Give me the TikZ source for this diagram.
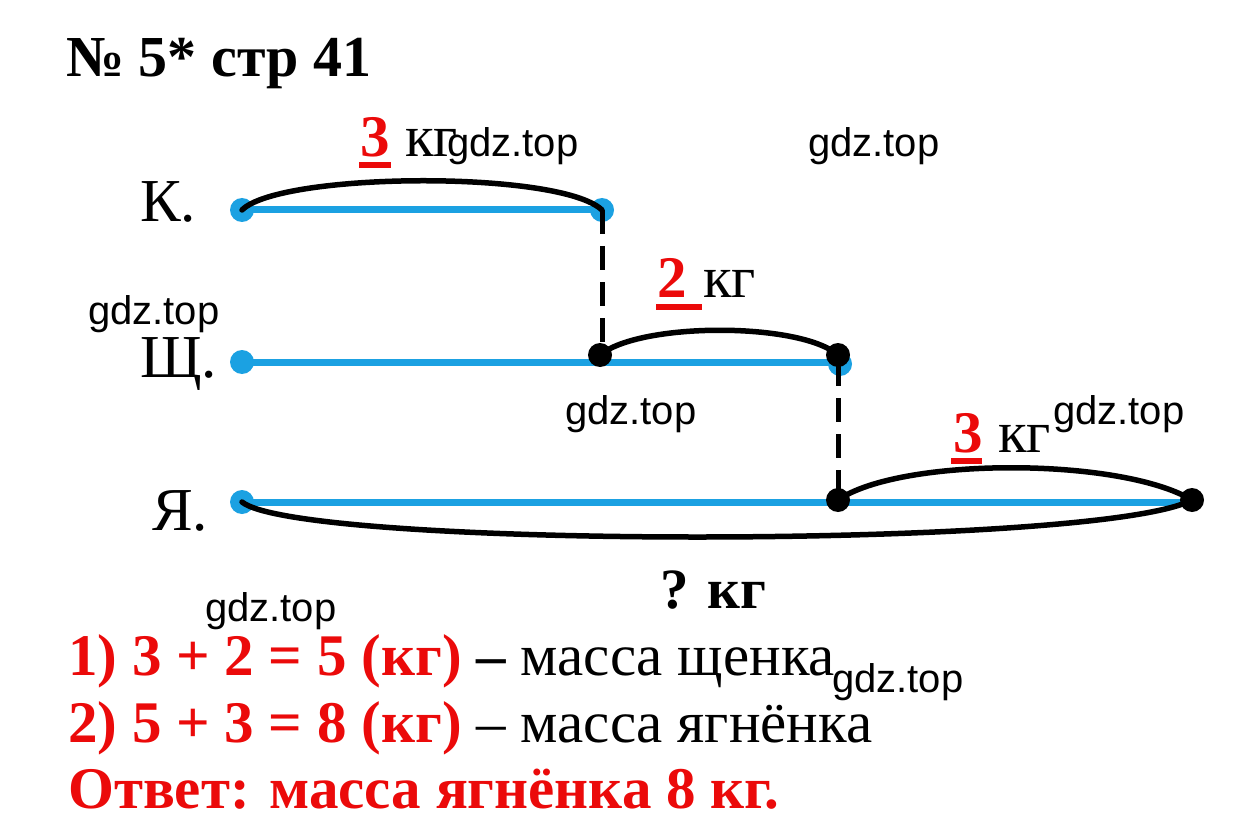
\documentclass[tikz,border=0pt]{standalone}
\usepackage{fontspec}
\setmainfont{Liberation Serif}
\newfontfamily\arialf{Liberation Sans}
\definecolor{segblue}{RGB}{27,161,226}
\definecolor{ansred}{RGB}{235,10,10}
\begin{document}
\begin{tikzpicture}[x=1pt,y=-1pt,
  wm/.style={font=\arialf\fontsize{40}{40}\selectfont, anchor=base west, inner sep=0pt},
  lbl/.style={font=\fontsize{61}{64}\selectfont, anchor=base west, inner sep=0pt},
  txt/.style={font=\fontsize{59}{62}\selectfont, anchor=base west, inner sep=0pt},
  btxt/.style={font=\bfseries\fontsize{59}{62}\selectfont, anchor=base west, inner sep=0pt},
  seg/.style={segblue, line width=7pt},
  bdot/.style={circle, fill=segblue, minimum size=24pt, inner sep=0pt},
  kdot/.style={circle, fill=black, minimum size=24pt, inner sep=0pt},
  arcline/.style={black, line width=5.5pt, line cap=round},
  dropline/.style={black, line width=5pt, dash pattern=on 24pt off 12pt},
  ulrule/.style={fill=ansred, draw=none}]
\useasboundingbox (0,0) rectangle (1237,837);
\fill[white] (0,0) rectangle (1237,837);

% title
\node[btxt, font=\bfseries\fontsize{58}{62}\selectfont] (title) at (66,77) {№ 5* стр 41};

% row labels
\node[lbl] (lK) at (140,222) {К.};
\node[lbl] (lS) at (140,377) {Щ.};
\node[lbl] (lY) at (152,530) {Я.};

% blue segments
\coordinate (K0) at (242,210);
\coordinate (K1) at (602,210);
\coordinate (S0) at (242,362);
\coordinate (S1) at (838,362);
\coordinate (Y0) at (242,502);
\coordinate (Y1) at (1192,502);
\draw[seg] (K0) -- (K1);
\draw[seg] (S0) -- (S1);
\draw[seg] (Y0) -- (Y1);
\node[bdot] (dK0) at (K0) {};
\node[bdot] (dK1) at (K1) {};
\node[bdot] (dS0) at (S0) {};
\node[bdot] (dS1) at (840,364) {};
\node[bdot] (dY0) at (Y0) {};

% dashed drops
\draw[dropline] (K1) -- (602,352);
\draw[dropline] (S1) -- (838,498);

% black points
\node[kdot] (pSA) at (600,355) {};
\node[kdot] (pSB) at (838,355) {};
\node[kdot] (pYA) at (838,500) {};
\node[kdot] (pYB) at (1192,500) {};

% arcs
\draw[arcline] (K0) .. controls (280,172) and (560,170) .. (K1);
\draw[arcline] (pSA.center) .. controls (640,322) and (800,322) .. (pSB.center);
\draw[arcline] (pYA.center) .. controls (900,457) and (1120,457) .. (pYB.center);
\draw[arcline] (Y0) .. controls (300,549) and (1100,549) .. (pYB.center);

% quantity labels
\node[btxt, text=ansred] (n3a) at (360,157) {3};
\fill[ulrule] (359,162) rectangle (391,168);
\node[txt] (u3a) at (405,157) {кг};

\node[btxt, text=ansred] (n2) at (657,297) {2};
\fill[ulrule] (656,304) rectangle (702,310);
\node[txt] (u2) at (703,297) {кг};

\node[btxt, text=ansred] (n3b) at (953,452) {3};
\fill[ulrule] (951,458) rectangle (982,464);
\node[txt] (u3b) at (998,452) {кг};

\node[btxt, font=\bfseries\fontsize{57}{60}\selectfont] (q) at (660,608) {? кг};

% solution
\node[txt] (s1) at (68,675) {{\color{ansred}\bfseries 1) 3 + 2 = 5 (кг)} {\bfseries –} масса щенка};
\node[txt] (s2) at (68,742) {{\color{ansred}\bfseries 2) 5 + 3 = 8 (кг)} – масса ягнёнка};
\node[btxt, text=ansred] (s3) at (68,808) {Ответ: масса ягнёнка 8 кг.};

% watermarks
\node[wm] (w1) at (447,157) {gdz.top};
\node[wm] (w2) at (808,157) {gdz.top};
\node[wm] (w3) at (88,324) {gdz.top};
\node[wm] (w4) at (565,424) {gdz.top};
\node[wm] (w5) at (1053,424) {gdz.top};
\node[wm] (w6) at (205,621) {gdz.top};
\node[wm] (w7) at (832,692) {gdz.top};
\end{tikzpicture}
\end{document}
